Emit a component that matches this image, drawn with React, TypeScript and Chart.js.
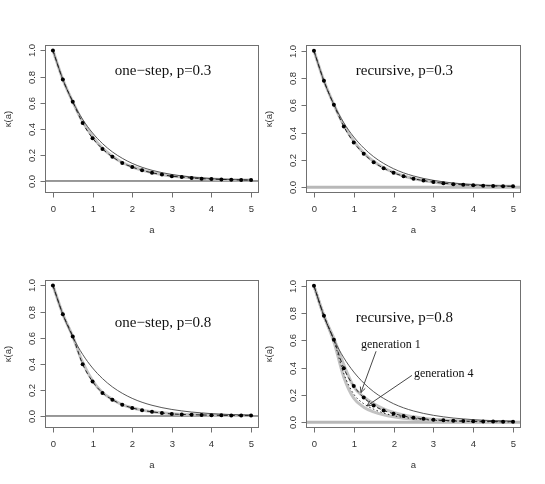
import React, { useEffect, useRef } from "react";
import { Chart, registerables } from "chart.js";
Chart.register(...registerables);

// ---------- data ----------
const aValues = [0, 0.25, 0.5, 0.75, 1, 1.25, 1.5, 1.75, 2, 2.25, 2.5, 2.75, 3, 3.25, 3.5, 3.75, 4, 4.25, 4.5, 4.75, 5];
const xTicks = [0, 1, 2, 3, 4, 5];
const xTickLabels = ["0", "1", "2", "3", "4", "5"];
const yTicks = [0, 0.2, 0.4, 0.6, 0.8, 1.0];
const yTickLabels = ["0.0", "0.2", "0.4", "0.6", "0.8", "1.0"];

// thin black reference curve (same in every panel)
const refCurve = [1, 0.779, 0.607, 0.472, 0.368, 0.287, 0.223, 0.174, 0.135, 0.105, 0.082, 0.064, 0.05, 0.039, 0.03, 0.024, 0.018, 0.014, 0.011, 0.009, 0.007];

// one-step, p=0.3
const oneStep03Dots = [1, 0.777, 0.608, 0.444, 0.328, 0.246, 0.185, 0.138, 0.107, 0.082, 0.063, 0.049, 0.037, 0.03, 0.023, 0.018, 0.015, 0.012, 0.01, 0.008, 0.007];
const oneStep03Grey = [1, 0.778, 0.607, 0.455, 0.34, 0.252, 0.19, 0.142, 0.109, 0.084, 0.065, 0.05, 0.038, 0.03, 0.024, 0.019, 0.015, 0.012, 0.01, 0.008, 0.007];

// recursive, p=0.3
const recursive03Dots = [1, 0.78, 0.604, 0.445, 0.328, 0.245, 0.183, 0.139, 0.105, 0.08, 0.062, 0.048, 0.037, 0.029, 0.022, 0.017, 0.013, 0.011, 0.009, 0.007, 0.006];
const recursive03Grey = [1, 0.78, 0.606, 0.455, 0.338, 0.25, 0.188, 0.142, 0.108, 0.082, 0.063, 0.049, 0.038, 0.029, 0.022, 0.017, 0.014, 0.011, 0.009, 0.007, 0.006];

// one-step, p=0.8
const oneStep08Dots = [1, 0.78, 0.61, 0.397, 0.264, 0.177, 0.125, 0.086, 0.062, 0.044, 0.032, 0.023, 0.016, 0.012, 0.01, 0.008, 0.006, 0.005, 0.004, 0.003, 0.003];
const oneStep08Grey = [1, 0.78, 0.61, 0.41, 0.27, 0.18, 0.127, 0.088, 0.063, 0.045, 0.033, 0.024, 0.017, 0.013, 0.01, 0.008, 0.006, 0.005, 0.004, 0.003, 0.003];

// recursive, p=0.8
const recursive08Dots = [1, 0.78, 0.605, 0.395, 0.265, 0.18, 0.122, 0.085, 0.062, 0.045, 0.033, 0.024, 0.018, 0.013, 0.01, 0.008, 0.006, 0.005, 0.004, 0.003, 0.003];
const recursive08Gen1Grey = [1, 0.78, 0.615, 0.42, 0.26, 0.185, 0.135, 0.098, 0.072, 0.053, 0.039, 0.029, 0.021, 0.016, 0.012, 0.009, 0.007, 0.005, 0.004, 0.003, 0.003];
const recursive08Gen4Grey = [1, 0.78, 0.59, 0.33, 0.175, 0.11, 0.075, 0.053, 0.039, 0.029, 0.022, 0.016, 0.012, 0.009, 0.007, 0.005, 0.004, 0.003, 0.002, 0.002, 0.001];
const recursive08Gen4Dotted = [1, 0.78, 0.6, 0.355, 0.205, 0.135, 0.095, 0.067, 0.048, 0.035, 0.026, 0.019, 0.014, 0.01, 0.008, 0.006, 0.004, 0.003, 0.003, 0.002, 0.002];

// annotations for the recursive p=0.8 panel: [text x, text y, arrow from x, from y, to x, to y]
const gen1Label = "generation 1";
const gen1Note = [1.93, 0.57, 1.56, 0.52, 1.18, 0.217];
const gen4Label = "generation 4";
const gen4Note = [3.26, 0.358, 2.46, 0.343, 1.33, 0.119];

const xLimits = [-0.2, 5.2];
const yLimitsOneStep = [-0.092, 1.042];
const yLimitsRecursive = [-0.043, 1.043];

type Panel = {
  left: number; top: number; width: number; height: number;
  pad: { left: number; right: number; top: number; bottom: number };
  yLim: number[];
  title: string; titleX: number; titleY: number;
  dots: number[];
  greys: number[][];
  dotted?: number[];
  recursiveZero: boolean;
  notes?: boolean;
};

const panels: Panel[] = [
  { left: 0, top: 0, width: 272, height: 242, pad: { left: 45, right: 13, top: 45, bottom: 49 }, yLim: yLimitsOneStep,
    title: "one\u2212step, p=0.3", titleX: 2.78, titleY: 0.84, dots: oneStep03Dots, greys: [oneStep03Grey], recursiveZero: false },
  { left: 260, top: 0, width: 285, height: 242, pad: { left: 46, right: 24, top: 45, bottom: 49 }, yLim: yLimitsRecursive,
    title: "recursive, p=0.3", titleX: 2.27, titleY: 0.855, dots: recursive03Dots, greys: [recursive03Grey], recursiveZero: true },
  { left: 0, top: 242, width: 272, height: 242, pad: { left: 45, right: 13, top: 38, bottom: 56 }, yLim: yLimitsOneStep,
    title: "one\u2212step, p=0.8", titleX: 2.78, titleY: 0.715, dots: oneStep08Dots, greys: [oneStep08Grey], recursiveZero: false },
  { left: 260, top: 242, width: 285, height: 242, pad: { left: 46, right: 24, top: 38, bottom: 56 }, yLim: yLimitsRecursive,
    title: "recursive, p=0.8", titleX: 2.27, titleY: 0.766, dots: recursive08Dots, greys: [recursive08Gen1Grey, recursive08Gen4Grey],
    dotted: recursive08Gen4Dotted, recursiveZero: true, notes: true },
];

const toXY = (ys: number[]) => ys.map((y, i) => ({ x: aValues[i], y }));

function drawArrow(ctx: CanvasRenderingContext2D, x1: number, y1: number, x2: number, y2: number) {
  ctx.beginPath();
  ctx.moveTo(x1, y1);
  ctx.lineTo(x2, y2);
  const ang = Math.atan2(y2 - y1, x2 - x1);
  const L = 6;
  ctx.moveTo(x2, y2);
  ctx.lineTo(x2 - L * Math.cos(ang - Math.PI / 7), y2 - L * Math.sin(ang - Math.PI / 7));
  ctx.moveTo(x2, y2);
  ctx.lineTo(x2 - L * Math.cos(ang + Math.PI / 7), y2 - L * Math.sin(ang + Math.PI / 7));
  ctx.stroke();
}

function PanelChart({ p }: { p: Panel }) {
  const ref = useRef<HTMLCanvasElement | null>(null);
  useEffect(() => {
    if (!ref.current) return;
    const datasets: any[] = [];
    datasets.push({
      data: toXY(p.dots), showLine: true, borderColor: "#222", borderWidth: 1, borderDash: [4, 3],
      pointRadius: 2, pointBackgroundColor: "#000", pointBorderWidth: 0, cubicInterpolationMode: "monotone",
    });
    if (p.dotted) {
      datasets.push({
        data: toXY(p.dotted), showLine: true, borderColor: "#222", borderWidth: 1, borderDash: [1.5, 2.5],
        pointRadius: 0, cubicInterpolationMode: "monotone",
      });
    }
    datasets.push({
      data: toXY(refCurve), showLine: true, borderColor: "#444", borderWidth: 0.9, pointRadius: 0,
      cubicInterpolationMode: "monotone",
    });
    p.greys.forEach((g) =>
      datasets.push({
        data: toXY(g), showLine: true, borderColor: "#c2c2c2", borderWidth: 3, pointRadius: 0,
        cubicInterpolationMode: "monotone",
      })
    );
    datasets.push({
      data: [{ x: xLimits[0], y: 0 }, { x: xLimits[1], y: 0 }], showLine: true,
      borderColor: p.recursiveZero ? "#b8b8b8" : "#333", borderWidth: p.recursiveZero ? 3 : 1, pointRadius: 0,
    });

    const decor = {
      id: "decor",
      afterDraw(chart: any) {
        const ctx: CanvasRenderingContext2D = chart.ctx;
        const ca = chart.chartArea;
        const xs = chart.scales.x, ys = chart.scales.y;
        ctx.save();
        ctx.strokeStyle = "#707070";
        ctx.lineWidth = 1;
        ctx.strokeRect(Math.round(ca.left) + 0.5, Math.round(ca.top) + 0.5, Math.round(ca.right - ca.left) - 1, Math.round(ca.bottom - ca.top) - 1);
        ctx.fillStyle = "#333";
        ctx.font = "9.5px 'Liberation Sans', Arial, sans-serif";
        ctx.textAlign = "center";
        ctx.textBaseline = "middle";
        const bottom = Math.round(ca.bottom) - 0.5;
        xTicks.forEach((v, i) => {
          const px = Math.round(xs.getPixelForValue(v)) + 0.5;
          ctx.beginPath();
          ctx.moveTo(px, bottom);
          ctx.lineTo(px, bottom + 5);
          ctx.stroke();
          ctx.fillText(xTickLabels[i], px, bottom + 17);
        });
        ctx.fillText("a", (ca.left + ca.right) / 2, bottom + 38);
        const left = Math.round(ca.left) + 0.5;
        yTicks.forEach((v, i) => {
          const py = Math.round(ys.getPixelForValue(v)) + 0.5;
          ctx.beginPath();
          ctx.moveTo(left, py);
          ctx.lineTo(left - 5, py);
          ctx.stroke();
          ctx.save();
          ctx.translate(left - 13, py);
          ctx.rotate(-Math.PI / 2);
          ctx.fillText(yTickLabels[i], 0, 0);
          ctx.restore();
        });
        ctx.save();
        ctx.translate(left - 37, (ca.top + ca.bottom) / 2);
        ctx.rotate(-Math.PI / 2);
        ctx.fillText("\u03BA(a)", 0, 0);
        ctx.restore();

        ctx.fillStyle = "#111";
        ctx.font = "15px 'Liberation Serif', 'Times New Roman', serif";
        ctx.fillText(p.title, xs.getPixelForValue(p.titleX), ys.getPixelForValue(p.titleY));
        if (p.notes) {
          ctx.font = "12px 'Liberation Serif', 'Times New Roman', serif";
          const notes: [string, number[]][] = [[gen1Label, gen1Note], [gen4Label, gen4Note]];
          ctx.strokeStyle = "#333";
          ctx.lineWidth = 0.9;
          notes.forEach(([label, n]) => {
            ctx.fillText(label, xs.getPixelForValue(n[0]), ys.getPixelForValue(n[1]));
            drawArrow(ctx, xs.getPixelForValue(n[2]), ys.getPixelForValue(n[3]), xs.getPixelForValue(n[4]), ys.getPixelForValue(n[5]));
          });
        }
        ctx.restore();
      },
    };

    const chart = new Chart(ref.current, {
      type: "scatter",
      data: { datasets },
      options: {
        animation: false,
        responsive: false,
        devicePixelRatio: 1,
        events: [],
        layout: { padding: p.pad },
        plugins: { legend: { display: false }, tooltip: { enabled: false } },
        scales: {
          x: { type: "linear", min: xLimits[0], max: xLimits[1], display: false },
          y: { type: "linear", min: p.yLim[0], max: p.yLim[1], display: false },
        },
      },
      plugins: [decor],
    } as any);
    return () => chart.destroy();
  }, [p]);
  return (
    <canvas
      ref={ref}
      width={p.width}
      height={p.height}
      style={{ position: "absolute", left: p.left, top: p.top, width: p.width, height: p.height }}
    />
  );
}

export default function App() {
  return (
    <div style={{ position: "absolute", left: 0, top: 0, width: 545, height: 484, background: "#fff" }}>
      {panels.map((p, i) => (
        <PanelChart key={i} p={p} />
      ))}
    </div>
  );
}
